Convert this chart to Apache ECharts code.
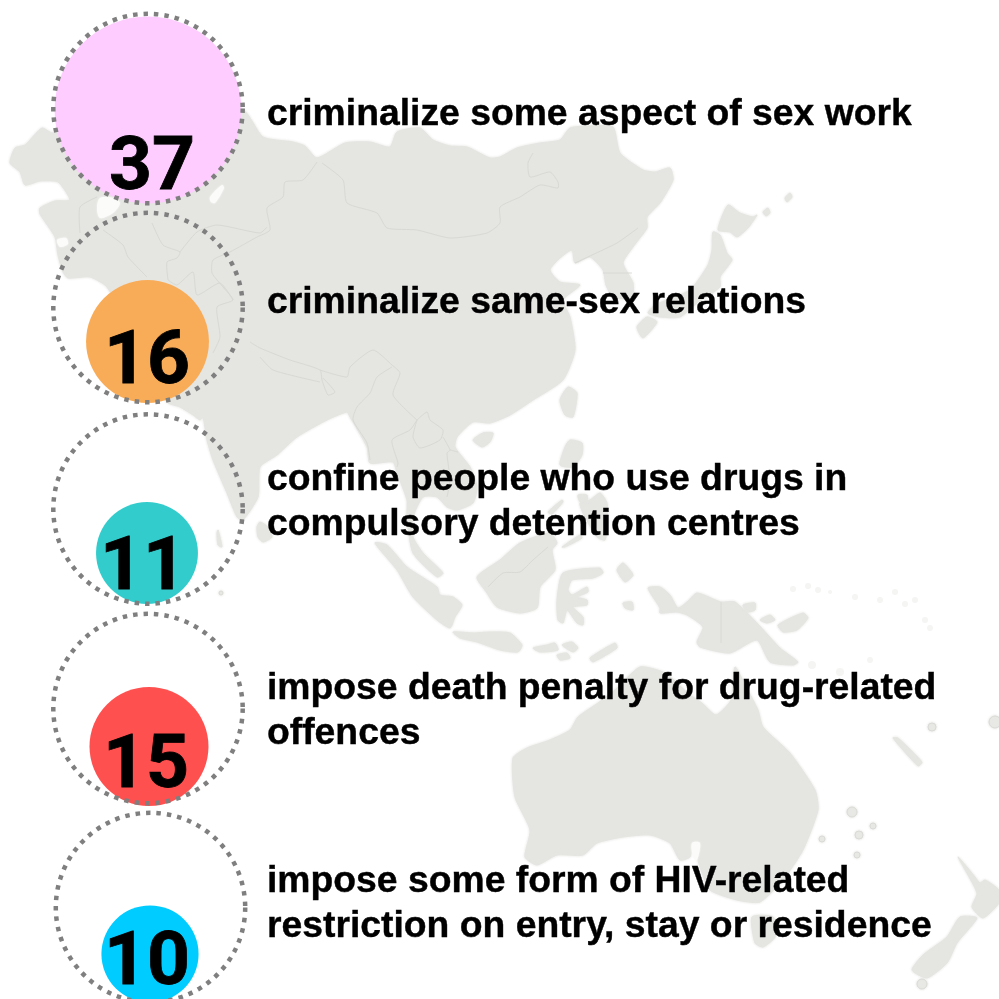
<!DOCTYPE html>
<html>
<head>
<meta charset="utf-8">
<title>Punitive laws in Asia and the Pacific</title>
<style>html,body{margin:0;padding:0;background:#fff;overflow:hidden}#chart{width:999px;height:999px}</style>
<script src="https://cdn.jsdelivr.net/npm/echarts@6/dist/echarts.min.js"></script>
</head>
<body>
<div id="chart"></div>
<script>
// Number of countries behind each statement, out of the regional total.
const statements = [
  'criminalize some aspect of sex work',
  'criminalize same-sex relations',
  'confine people who use drugs in\ncompulsory detention centres',
  'impose death penalty for drug-related\noffences',
  'impose some form of HIV-related\nrestriction on entry, stay or residence'
];
const countryCounts = [37, 16, 11, 15, 10];
const regionTotal = 38;
const fillColors = ['#ffccff', '#f9ac58', '#33cccc', '#ff5050', '#00ccff'];

// Layout of each row, in page pixels.
const ringX = [148, 148, 148, 148, 150.5];
const ringY = [108.5, 307.5, 509, 708.5, 907.5];
const discX = [148, 147.5, 147, 149, 150];
const discY = [110, 341.5, 553, 746.5, 954];
const countX = [152, 147, 143, 146, 147];
const countY = [170, 364, 570, 768, 965];
const statementX = 267;
const statementY = [115, 303, 502, 711, 904];
const AREA_PER_COUNTRY = 236;

// Backdrop map of the region, traced as land outlines in page pixels.
const mainland = [[10,163],[15,148],[25,145],[42,128],[53,133],[100,100],[150,95],[243,110],[263,137],[293,142],[305,146],[317,158],[345,143],[370,142],[390,147],[397,132],[420,128],[433,140],[450,146],[467,147],[490,158],[500,157],[517,148],[540,143],[560,140],[570,128],[590,126],[613,127],[620,153],[643,170],[655,172],[670,168],[673,180],[660,203],[647,217],[647,228],[633,247],[623,263],[633,283],[632,298],[613,297],[606,285],[603,270],[590,257],[575,263],[572,250],[560,258],[550,270],[560,282],[580,285],[563,300],[570,317],[575,350],[563,380],[533,400],[510,415],[490,423],[473,422],[457,437],[455,447],[470,467],[477,487],[473,503],[457,510],[447,507],[437,497],[423,497],[413,517],[413,537],[423,553],[443,573],[437,577],[413,553],[407,517],[407,500],[397,473],[393,462],[370,463],[367,447],[350,417],[347,412],[327,420],[297,437],[277,455],[260,467],[258,497],[243,520],[237,517],[227,493],[213,460],[207,440],[203,417],[200,420],[193,415],[180,407],[167,402],[130,330],[107,287],[90,277],[68,278],[63,272],[58,255],[55,237],[40,214],[40,208],[55,201],[70,200],[58,182],[40,181],[25,185],[20,172]];
const islands = [
  [[260,522],[268,527],[272,537],[263,542],[258,537],[257,527]],
  [[473,440],[483,433],[493,433],[490,442],[482,447]],
  [[568,387],[577,393],[573,417],[565,415],[560,400]],
  [[728,205],[740,213],[753,217],[757,215],[748,228],[737,237],[730,232],[718,230]],
  [[713,232],[720,235],[727,253],[732,260],[720,277],[720,287],[697,303],[680,317],[660,317],[648,313],[655,305],[690,290],[708,265],[712,250]],
  [[637,327],[647,317],[657,322],[643,338]],
  [[785,198],[790,193],[792,197],[787,202]],
  [[763,212],[768,208],[770,213],[766,216]],
  [[570,440],[582,443],[582,455],[573,467],[560,465],[565,447]],
  [[600,493],[607,503],[607,523],[605,540],[597,537],[583,513],[580,503],[590,500]],
  [[578,495],[587,495],[587,502],[580,502]],
  [[562,547],[580,535],[582,538],[565,547]],
  [[548,512],[562,500],[563,502],[552,514]],
  [[375,543],[387,545],[407,567],[437,587],[440,595],[453,597],[462,605],[455,617],[450,628],[437,620],[413,597],[397,570]],
  [[453,632],[473,633],[490,632],[510,633],[522,645],[518,652],[500,650],[477,642],[460,638]],
  [[533,648],[547,645],[555,643],[558,650],[540,652]],
  [[562,645],[572,642],[578,648],[573,652]],
  [[557,655],[567,653],[570,658],[560,660]],
  [[590,658],[615,643],[617,648],[593,662]],
  [[477,577],[500,560],[520,543],[550,533],[557,543],[552,550],[555,570],[540,587],[537,608],[520,613],[497,607],[487,593]],
  [[563,573],[600,568],[603,573],[593,578],[572,580],[568,590],[572,595],[587,587],[588,592],[577,597],[587,600],[587,605],[573,607],[583,617],[583,625],[577,623],[567,610],[563,623],[558,620],[557,600]],
  [[617,570],[623,563],[633,575],[625,582]],
  [[623,603],[632,602],[633,610],[625,608]],
  [[648,588],[660,587],[670,595],[678,608],[687,602],[697,593],[721,602],[735,602],[757,623],[780,648],[798,662],[793,665],[770,662],[757,640],[730,653],[700,647],[697,642],[703,627],[687,615],[677,612],[660,613],[660,608]],
  [[778,625],[803,613],[808,618],[797,630],[783,632]],
  [[760,620],[770,615],[775,620],[767,623]],
  [[743,605],[755,603],[755,610],[747,612]],
  [[893,738],[898,738],[922,762],[918,766]],
  [[218,530],[222,547],[218,545],[217,533]],
  [[513,758],[527,748],[550,740],[570,730],[578,717],[598,703],[615,690],[640,667],[665,673],[690,695],[702,703],[716,715],[731,700],[735,667],[745,685],[758,710],[763,727],[790,753],[815,790],[818,810],[803,850],[783,880],[760,902],[737,900],[710,890],[700,867],[693,843],[690,857],[680,860],[670,843],[650,835],[623,837],[597,843],[583,855],[557,855],[537,865],[525,857],[530,830],[515,797]],
  [[752,917],[773,917],[775,937],[763,947],[755,943]],
  [[958,857],[967,867],[975,877],[980,883],[985,880],[999,890],[999,903],[983,918],[972,907],[977,893]],
  [[960,917],[977,918],[957,943],[947,963],[927,978],[912,970],[923,955],[947,937]]
];
const inlandWaters = [
  [[100,198],[113,198],[120,203],[113,213],[100,218],[97,208]],
  [[210,197],[222,185],[224,188],[215,203],[211,202]],
  [[57,240],[66,238],[68,244],[60,247]],
  [[692,843],[700,843],[697,860],[693,857]]
];
const smallIslets = [[932,727,4],[995,722,6],[852,812,5],[859,835,4],[873,826,3],[857,855,3],[822,839,3],[922,984,5],[221,593,2]];
const faintIslets = [[793,589,3],[808,586,3],[818,590,3],[830,592,2],[855,597,3],[880,600,3],[895,592,3],[905,604,3],[915,600,3],[925,620,3],[930,628,3],[812,665,4],[840,672,4],[870,660,3]];
const borders = [
  [[80,233],[80,207],[97,197]],
  [[103,230],[123,245],[128,257],[147,277]],
  [[152,223],[163,245],[180,252],[177,258],[167,262],[168,280]],
  [[180,252],[197,232],[217,225],[260,233],[267,227]],
  [[317,162],[303,180],[285,182],[283,197],[267,208],[270,230],[257,237],[230,252],[213,260],[212,273],[223,287],[233,300],[217,307],[220,337],[213,353]],
  [[168,280],[177,285],[193,272],[197,295],[220,283],[233,300]],
  [[322,163],[343,180],[347,203],[377,213],[387,228],[417,230],[450,238],[487,233],[500,223],[500,207],[520,197],[540,185],[558,188],[558,182],[550,172],[530,177],[528,163],[533,153]],
  [[575,263],[592,255],[617,243],[638,228]],
  [[603,273],[632,273]],
  [[250,342],[260,348],[290,360],[320,370],[322,380],[328,395],[335,392],[323,378]],
  [[260,357],[273,370],[320,382]],
  [[320,370],[347,377],[350,367],[373,350],[392,365],[400,373],[393,395],[417,420]],
  [[392,367],[377,377],[370,393],[357,407],[353,420],[367,443],[370,460]],
  [[417,420],[410,430],[392,440],[398,463],[397,467]],
  [[417,420],[427,412],[430,420],[443,430],[440,440],[420,448],[413,437],[417,420]],
  [[443,437],[450,450],[447,453],[450,480],[447,497]],
  [[450,450],[458,452]],
  [[488,587],[503,573],[520,572],[533,560],[548,547]],
  [[721,602],[721,643]]
];

const LAND = '#e5e5e2';
const BORDER = '#d8d8d4';
const soft = { shadowBlur: 3, shadowColor: LAND };

const backdrop = [
  ...[mainland, ...islands].map(points => ({
    type: 'polygon', z: -10, silent: true,
    shape: { points, smooth: 0.2 },
    style: { fill: LAND, stroke: LAND, lineWidth: 1, ...soft }
  })),
  ...inlandWaters.map(points => ({
    type: 'polygon', z: -9, silent: true,
    shape: { points, smooth: 0.3 },
    style: { fill: '#fbfbfa', shadowBlur: 2, shadowColor: '#fbfbfa' }
  })),
  ...smallIslets.map(([cx, cy, r]) => ({
    type: 'circle', z: -9, silent: true,
    shape: { cx, cy, r },
    style: { fill: '#e8e8e5', stroke: '#dadad6', lineWidth: 1, ...soft }
  })),
  ...faintIslets.map(([cx, cy, r]) => ({
    type: 'circle', z: -9, silent: true,
    shape: { cx, cy, r },
    style: { fill: '#f5f5f3' }
  })),
  ...borders.map(points => ({
    type: 'polyline', z: -8, silent: true,
    shape: { points, smooth: 0.2 },
    style: { fill: 'none', stroke: BORDER, lineWidth: 1 }
  }))
];

const diameter = n => 2 * Math.sqrt(n * AREA_PER_COUNTRY);

const chart = echarts.init(document.getElementById('chart'), null, { renderer: 'canvas', width: 999, height: 999 });
chart.setOption({
  animation: false,
  backgroundColor: '#ffffff',
  grid: { left: 0, right: 0, top: 0, bottom: 0 },
  xAxis: { type: 'value', min: 0, max: 999, show: false },
  yAxis: { type: 'value', min: 0, max: 999, inverse: true, show: false },
  graphic: backdrop,
  series: [
    {
      name: 'Countries', type: 'scatter', z: 10, clip: false, silent: true,
      symbolSize: v => diameter(v[2]),
      data: countryCounts.map((n, i) => ({
        value: [discX[i], discY[i], n],
        itemStyle: { color: fillColors[i], opacity: 1 }
      }))
    },
    {
      name: 'Region total', type: 'scatter', z: 11, clip: false, silent: true,
      symbolSize: v => diameter(v[2]),
      itemStyle: {
        color: 'rgba(0,0,0,0)', borderColor: '#7f7f7f', borderWidth: 4.5,
        borderType: [4.5, 6], opacity: 1
      },
      data: ringX.map((x, i) => [x, ringY[i], regionTotal])
    },
    {
      name: 'Counts', type: 'scatter', z: 12, clip: false, silent: true,
      symbolSize: 0,
      itemStyle: { opacity: 1 },
      label: {
        show: true, position: 'inside', color: '#000', opacity: 1,
        textBorderColor: '#000', textBorderWidth: 0.8,
        fontFamily: 'Roboto, "Liberation Sans", sans-serif', fontWeight: 'bold', fontSize: 75,
        formatter: p => String(p.value[2])
      },
      data: countryCounts.map((n, i) => [countX[i], countY[i], n])
    },
    {
      name: 'Statements', type: 'scatter', z: 13, clip: false, silent: true,
      symbolSize: 0,
      itemStyle: { opacity: 1 },
      label: {
        show: true, position: 'right', distance: 0, color: '#000', opacity: 1, align: 'left',
        textBorderColor: '#000', textBorderWidth: 0.4,
        fontFamily: '"Liberation Sans", Arial, sans-serif', fontWeight: 'bold', fontSize: 37.3, lineHeight: 45,
        formatter: p => statements[p.dataIndex]
      },
      data: statementY.map(y => [statementX, y])
    }
  ]
});
</script>
</body>
</html>
